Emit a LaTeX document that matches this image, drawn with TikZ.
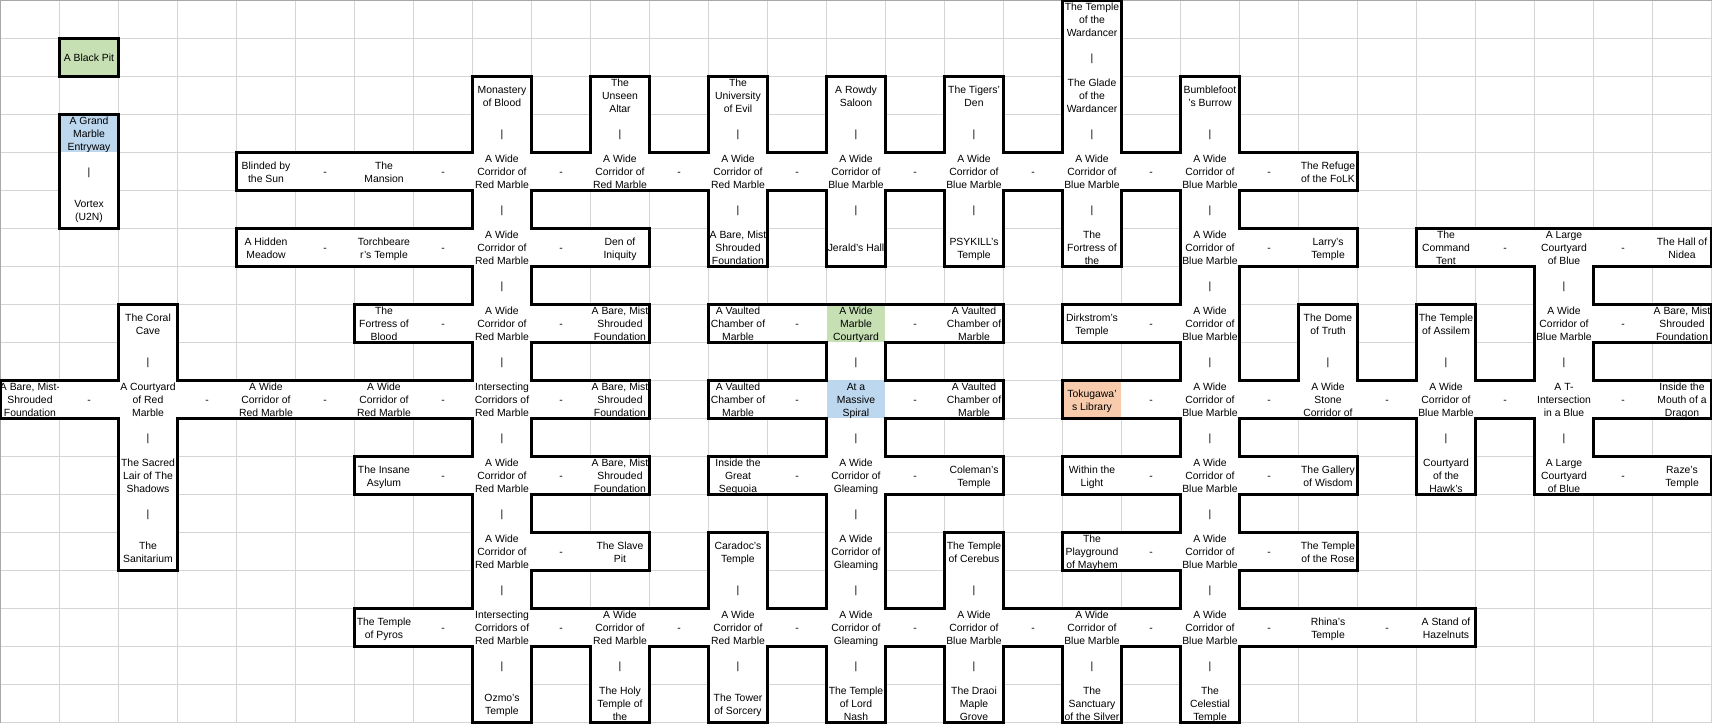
\documentclass[tikz,border=0pt]{standalone}
\usepackage{fontspec}
\setmainfont{Liberation Sans}
\usepackage{etoolbox}
\definecolor{gridc}{HTML}{D4D4D4}
\definecolor{edgec}{HTML}{A8A8A8}
\definecolor{pitgreen}{HTML}{C6E0B4}
\definecolor{entryblue}{HTML}{BDD7EE}
\definecolor{liborange}{HTML}{F8CBAD}
\newcommand\cellfont{\fontsize{10.4}{13}\selectfont}
\newcommand\setcell[2]{\expandafter\gdef\csname cel@#1@#2\endcsname{}}
\tikzset{
  gridline/.style={draw=gridc, line width=1pt},
  edgeline/.style={draw=edgec, line width=1pt},
  wall/.style={draw=black, line width=3pt, line cap=rect},
  celltext/.style={font=\cellfont, align=center, inner sep=0pt, text=black}
}
\newcommand\room[4][white]{%
  \setcell{#2}{#3}%
  \fill[#1] (59*#3,38*#2) rectangle ++(60,39);
  \begin{scope}
    \clip (59*#3+1,38*#2+1) rectangle ++(58,37);
    \node[celltext] (n-#2-#3) at (59*#3+30,38*#2+21) {\strut #4\strut};
  \end{scope}}
\newcommand\hcon[2]{\room{#1}{#2}{-}}
\newcommand\vcon[2]{\room{#1}{#2}{|}}
\newcommand\txwred{A Wide\\Corridor of\\Red Marble}
\newcommand\txwblue{A Wide\\Corridor of\\Blue Marble}
\newcommand\txgleam{A Wide\\Corridor of\\Gleaming}
\newcommand\txbare{A Bare, Mist\\Shrouded\\Foundation}
\newcommand\txvault{A Vaulted\\Chamber of\\Marble}
\newcommand\txisect{Intersecting\\Corridors of\\Red Marble}
\begin{document}
\begin{tikzpicture}[x=1pt,y=-1pt]
\useasboundingbox (0,0) rectangle (1712,723);
\fill[white] (0,0) rectangle (1712,723);
% grid
\foreach \c in {1,...,29} {\draw[gridline] (59*\c+0.5,0) -- (59*\c+0.5,723);}
\foreach \r in {1,...,19} {\draw[gridline] (0,38*\r+0.5) -- (1712,38*\r+0.5);}
\draw[edgeline] (0,0.5) -- (1712,0.5);
\draw[edgeline] (0.5,0) -- (0.5,723);
% row 0
\room{0}{18}{The Temple\\of the\\Wardancer}
% row 1
\room[pitgreen]{1}{1}{A Black Pit}
\vcon{1}{18}
% row 2
\room{2}{8}{Monastery\\of Blood}
\room{2}{10}{The\\Unseen\\Altar}
\room{2}{12}{The\\University\\of Evil}
\room{2}{14}{A Rowdy\\Saloon}
\room{2}{16}{The Tigers'\\Den}
\room{2}{18}{The Glade\\of the\\Wardancer}
\room{2}{20}{Bumblefoot\\'s Burrow}
% row 3
\room[entryblue]{3}{1}{A Grand\\Marble\\Entryway}
\foreach \c in {8,10,...,20} {\vcon{3}{\c}}
% row 4
\vcon{4}{1}
\room{4}{4}{Blinded by\\the Sun}
\room{4}{6}{The\\Mansion}
\room{4}{8}{\txwred}
\room{4}{10}{\txwred}
\room{4}{12}{\txwred}
\room{4}{14}{\txwblue}
\room{4}{16}{\txwblue}
\room{4}{18}{\txwblue}
\room{4}{20}{\txwblue}
\room{4}{22}{The Refuge\\of the FoLK}
\foreach \c in {5,7,...,21} {\hcon{4}{\c}}
% row 5
\room{5}{1}{Vortex\\(U2N)}
\foreach \c in {8,12,14,16,18,20} {\vcon{5}{\c}}
% row 6
\room{6}{4}{A Hidden\\Meadow}
\room{6}{6}{Torchbeare\\r's Temple}
\room{6}{8}{\txwred}
\room{6}{10}{Den of\\Iniquity}
\room{6}{12}{\txbare}
\room{6}{14}{Jerald's Hall}
\room{6}{16}{PSYKILL's\\Temple}
\room{6}{18}{The\\Fortress of\\the}
\room{6}{20}{\txwblue}
\room{6}{22}{Larry's\\Temple}
\room{6}{24}{The\\Command\\Tent}
\room{6}{26}{A Large\\Courtyard\\of Blue}
\room{6}{28}{The Hall of\\Nidea}
\foreach \c in {5,7,9,21,25,27} {\hcon{6}{\c}}
% row 7
\foreach \c in {8,20,26} {\vcon{7}{\c}}
% row 8
\room{8}{2}{The Coral\\Cave}
\room{8}{6}{The\\Fortress of\\Blood}
\room{8}{8}{\txwred}
\room{8}{10}{\txbare}
\room{8}{12}{\txvault}
\room[pitgreen]{8}{14}{A Wide\\Marble\\Courtyard}
\room{8}{16}{\txvault}
\room{8}{18}{Dirkstrom's\\Temple}
\room{8}{20}{\txwblue}
\room{8}{22}{The Dome\\of Truth}
\room{8}{24}{The Temple\\of Assilem}
\room{8}{26}{\txwblue}
\room{8}{28}{\txbare}
\foreach \c in {7,9,13,15,19,27} {\hcon{8}{\c}}
% row 9
\foreach \c in {2,8,14,20,22,24,26} {\vcon{9}{\c}}
% row 10
\room{10}{0}{A Bare, Mist-\\Shrouded\\Foundation}
\room{10}{2}{A Courtyard\\of Red\\Marble}
\room{10}{4}{\txwred}
\room{10}{6}{\txwred}
\room{10}{8}{\txisect}
\room{10}{10}{\txbare}
\room{10}{12}{\txvault}
\room[entryblue]{10}{14}{At a\\Massive\\Spiral}
\room{10}{16}{\txvault}
\room[liborange]{10}{18}{Tokugawa'\\s Library}
\room{10}{20}{\txwblue}
\room{10}{22}{A Wide\\Stone\\Corridor of}
\room{10}{24}{\txwblue}
\room{10}{26}{A T-\\Intersection\\in a Blue}
\room{10}{28}{Inside the\\Mouth of a\\Dragon}
\foreach \c in {1,3,5,7,9,13,15,19,21,23,25,27} {\hcon{10}{\c}}
% row 11
\foreach \c in {2,8,14,20,24,26} {\vcon{11}{\c}}
% row 12
\room{12}{2}{The Sacred\\Lair of The\\Shadows}
\room{12}{6}{The Insane\\Asylum}
\room{12}{8}{\txwred}
\room{12}{10}{\txbare}
\room{12}{12}{Inside the\\Great\\Sequoia}
\room{12}{14}{\txgleam}
\room{12}{16}{Coleman's\\Temple}
\room{12}{18}{Within the\\Light}
\room{12}{20}{\txwblue}
\room{12}{22}{The Gallery\\of Wisdom}
\room{12}{24}{Courtyard\\of the\\Hawk's}
\room{12}{26}{A Large\\Courtyard\\of Blue}
\room{12}{28}{Raze's\\Temple}
\foreach \c in {7,9,13,15,19,21,27} {\hcon{12}{\c}}
% row 13
\foreach \c in {2,8,14,20} {\vcon{13}{\c}}
% row 14
\room{14}{2}{The\\Sanitarium}
\room{14}{8}{\txwred}
\room{14}{10}{The Slave\\Pit}
\room{14}{12}{Caradoc's\\Temple}
\room{14}{14}{\txgleam}
\room{14}{16}{The Temple\\of Cerebus}
\room{14}{18}{The\\Playground\\of Mayhem}
\room{14}{20}{\txwblue}
\room{14}{22}{The Temple\\of the Rose}
\foreach \c in {9,19,21} {\hcon{14}{\c}}
% row 15
\foreach \c in {8,12,14,16,20} {\vcon{15}{\c}}
% row 16
\room{16}{6}{The Temple\\of Pyros}
\room{16}{8}{\txisect}
\room{16}{10}{\txwred}
\room{16}{12}{\txwred}
\room{16}{14}{\txgleam}
\room{16}{16}{\txwblue}
\room{16}{18}{\txwblue}
\room{16}{20}{\txwblue}
\room{16}{22}{Rhina's\\Temple}
\room{16}{24}{A Stand of\\Hazelnuts}
\foreach \c in {7,9,...,23} {\hcon{16}{\c}}
% row 17
\foreach \c in {8,10,...,20} {\vcon{17}{\c}}
% row 18
\room{18}{8}{Ozmo's\\Temple}
\room{18}{10}{The Holy\\Temple of\\the}
\room{18}{12}{The Tower\\of Sorcery}
\room{18}{14}{The Temple\\of Lord\\Nash}
\room{18}{16}{The Draoi\\Maple\\Grove}
\room{18}{18}{The\\Sanctuary\\of the Silver}
\room{18}{20}{The\\Celestial\\Temple}
% outlines of the connected cell regions
\foreach \r in {0,...,18}{%
  \foreach \c in {0,...,28}{%
    \ifcsdef{cel@\r @\c}{%
      \pgfmathtruncatemacro\rU{\r-1}%
      \pgfmathtruncatemacro\rD{\r+1}%
      \pgfmathtruncatemacro\cL{\c-1}%
      \pgfmathtruncatemacro\cR{\c+1}%
      \ifcsdef{cel@\rU @\c}{}{\draw[wall] (59*\c+0.5,38*\r+0.5) -- ++(59,0);}%
      \ifcsdef{cel@\rD @\c}{}{\draw[wall] (59*\c+0.5,38*\r+38.5) -- ++(59,0);}%
      \ifcsdef{cel@\r @\cL}{}{\draw[wall] (59*\c+0.5,38*\r+0.5) -- ++(0,38);}%
      \ifcsdef{cel@\r @\cR}{}{\draw[wall] (59*\c+59.5,38*\r+0.5) -- ++(0,38);}%
    }{}%
  }%
}
\end{tikzpicture}
\end{document}
